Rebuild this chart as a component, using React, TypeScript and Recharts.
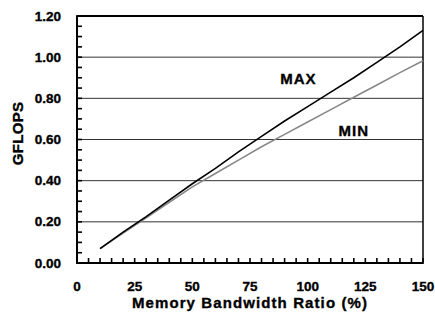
import React from 'react';
import { LineChart, Line, XAxis, YAxis, ReferenceLine, ReferenceDot } from 'recharts';

const ratios = [10, 20, 30, 40, 50, 60, 70, 80, 90, 100, 110, 120, 130, 140, 150];
const maxValues = [0.07, 0.15, 0.225, 0.305, 0.385, 0.46, 0.54, 0.615, 0.69, 0.76, 0.83, 0.9, 0.975, 1.05, 1.13];
const minValues = [0.07, 0.145, 0.22, 0.295, 0.37, 0.435, 0.5, 0.565, 0.625, 0.685, 0.745, 0.805, 0.865, 0.925, 0.983];

const xTicks = [0, 5, 10, 15, 20, 25, 30, 35, 40, 45, 50, 55, 60, 65, 70, 75, 80, 85, 90, 95, 100, 105, 110, 115, 120, 125, 130, 135, 140, 145, 150];
const xMajor = [0, 25, 50, 75, 100, 125, 150];
const yTicks = [0, 0.05, 0.1, 0.15, 0.2, 0.25, 0.3, 0.35, 0.4, 0.45, 0.5, 0.55, 0.6, 0.65, 0.7, 0.75, 0.8, 0.85, 0.9, 0.95, 1.0, 1.05, 1.1, 1.15, 1.2];
const yMajor = [0, 0.2, 0.4, 0.6, 0.8, 1.0, 1.2];
const gridValues = [0.2, 0.4, 0.6, 0.8, 1.0];

const annotations = [
  { text: 'MAX', x: 96, y: 0.897 },
  { text: 'MIN', x: 120, y: 0.645 },
];

const data = ratios.map((r, i) => ({ ratio: r, max: maxValues[i], min: minValues[i] }));

const FONT = "Arial, 'Liberation Sans', Helvetica, sans-serif";
const X_MARGIN = 22;
const Y_MARGIN = 16;
const TICK_LEN = 5;

const XTick = (props: any) => {
  const { x, y, payload } = props;
  const v = payload.value;
  const major = xMajor.includes(v);
  const axisY = y - X_MARGIN;
  return (
    <g>
      <path d={`M${x},${axisY + 1}V${axisY - TICK_LEN}`} stroke="#000" strokeWidth={1.6} fill="none" />
      {major && (
        <text
          x={x}
          y={y + 6}
          textAnchor="middle"
          fontFamily={FONT}
          fontWeight="bold"
          fontSize={13.5}
          fill="#000"
          stroke="#000"
          strokeWidth={0.35}
        >
          {String(v)}
        </text>
      )}
    </g>
  );
};

const YTick = (props: any) => {
  const { x, y, payload } = props;
  const v = payload.value;
  const major = yMajor.some((m) => Math.abs(m - v) < 1e-9);
  const axisX = x + Y_MARGIN;
  return (
    <g>
      <path d={`M${axisX - 1},${y}H${axisX + TICK_LEN}`} stroke="#000" strokeWidth={1.6} fill="none" />
      {major && (
        <text
          x={x}
          y={y}
          textAnchor="end"
          dominantBaseline="central"
          fontFamily={FONT}
          fontWeight="bold"
          fontSize={13.5}
          fill="#000"
          stroke="#000"
          strokeWidth={0.35}
        >
          {v.toFixed(2)}
        </text>
      )}
    </g>
  );
};

const YTitle = (props: any) => {
  const vb = props.viewBox || { x: 0, y: 0, width: 0, height: 0 };
  const cx = 17;
  const cy = vb.y + vb.height / 2 - 6;
  return (
    <text
      x={cx}
      y={cy}
      transform={`rotate(-90 ${cx} ${cy})`}
      textAnchor="middle"
      dominantBaseline="central"
      fontFamily={FONT}
      fontWeight="bold"
      fontSize={15}
      letterSpacing={0.3}
      fill="#000"
      stroke="#000"
      strokeWidth={0.35}
    >
      GFLOPS
    </text>
  );
};

const XTitle = (props: any) => {
  const vb = props.viewBox || { x: 0, y: 0, width: 0, height: 0 };
  const cx = vb.x + vb.width / 2;
  const cy = 308;
  return (
    <text
      x={cx}
      y={cy}
      textAnchor="middle"
      fontFamily={FONT}
      fontWeight="bold"
      fontSize={15}
      letterSpacing={1.1}
      fill="#000"
      stroke="#000"
      strokeWidth={0.35}
    >
      Memory Bandwidth Ratio (%)
    </text>
  );
};

const makeAnno = (text: string) => (props: any) => {
  const vb = props.viewBox || { x: 0, y: 0 };
  const cx = vb.x + (vb.width || 0) / 2;
  const cy = vb.y + (vb.height || 0) / 2;
  return (
    <text
      x={cx}
      y={cy}
      textAnchor="middle"
      dominantBaseline="central"
      fontFamily={FONT}
      fontWeight="bold"
      fontSize={15}
      letterSpacing={1}
      fill="#000"
      stroke="#000"
      strokeWidth={0.35}
    >
      {text}
    </text>
  );
};

export default function App() {
  return (
    <div style={{ position: 'absolute', left: 0, top: 0 }}>
      <LineChart
        width={435}
        height={323}
        data={data}
        margin={{ top: 16, right: 12, left: 0, bottom: 30 }}
      >
        {gridValues.map((v) => (
          <ReferenceLine key={'g' + v} y={v} stroke="#333" strokeWidth={1} />
        ))}
        <ReferenceLine y={1.2} stroke="#000" strokeWidth={2} />
        <ReferenceLine x={150} stroke="#000" strokeWidth={1.5} />
        <Line
          type="linear"
          dataKey="min"
          stroke="#888"
          strokeWidth={1.6}
          dot={false}
          isAnimationActive={false}
        />
        <Line
          type="linear"
          dataKey="max"
          stroke="#000"
          strokeWidth={1.6}
          dot={false}
          isAnimationActive={false}
        />
        {annotations.map((a) => (
          <ReferenceDot
            key={a.text}
            x={a.x}
            y={a.y}
            r={0}
            fill="none"
            stroke="none"
            label={{ content: makeAnno(a.text) }}
          />
        ))}
        <XAxis
          dataKey="ratio"
          type="number"
          domain={[0, 150]}
          ticks={xTicks}
          interval={0}
          height={30}
          tickSize={0}
          tickMargin={X_MARGIN}
          axisLine={{ stroke: '#000', strokeWidth: 2 }}
          tickLine={false}
          tick={<XTick />}
          label={{ content: XTitle }}
        />
        <YAxis
          type="number"
          domain={[0, 1.2]}
          ticks={yTicks}
          interval={0}
          width={77}
          tickSize={0}
          tickMargin={Y_MARGIN}
          axisLine={{ stroke: '#000', strokeWidth: 2 }}
          tickLine={false}
          tick={<YTick />}
          label={{ content: YTitle }}
        />
      </LineChart>
    </div>
  );
}
